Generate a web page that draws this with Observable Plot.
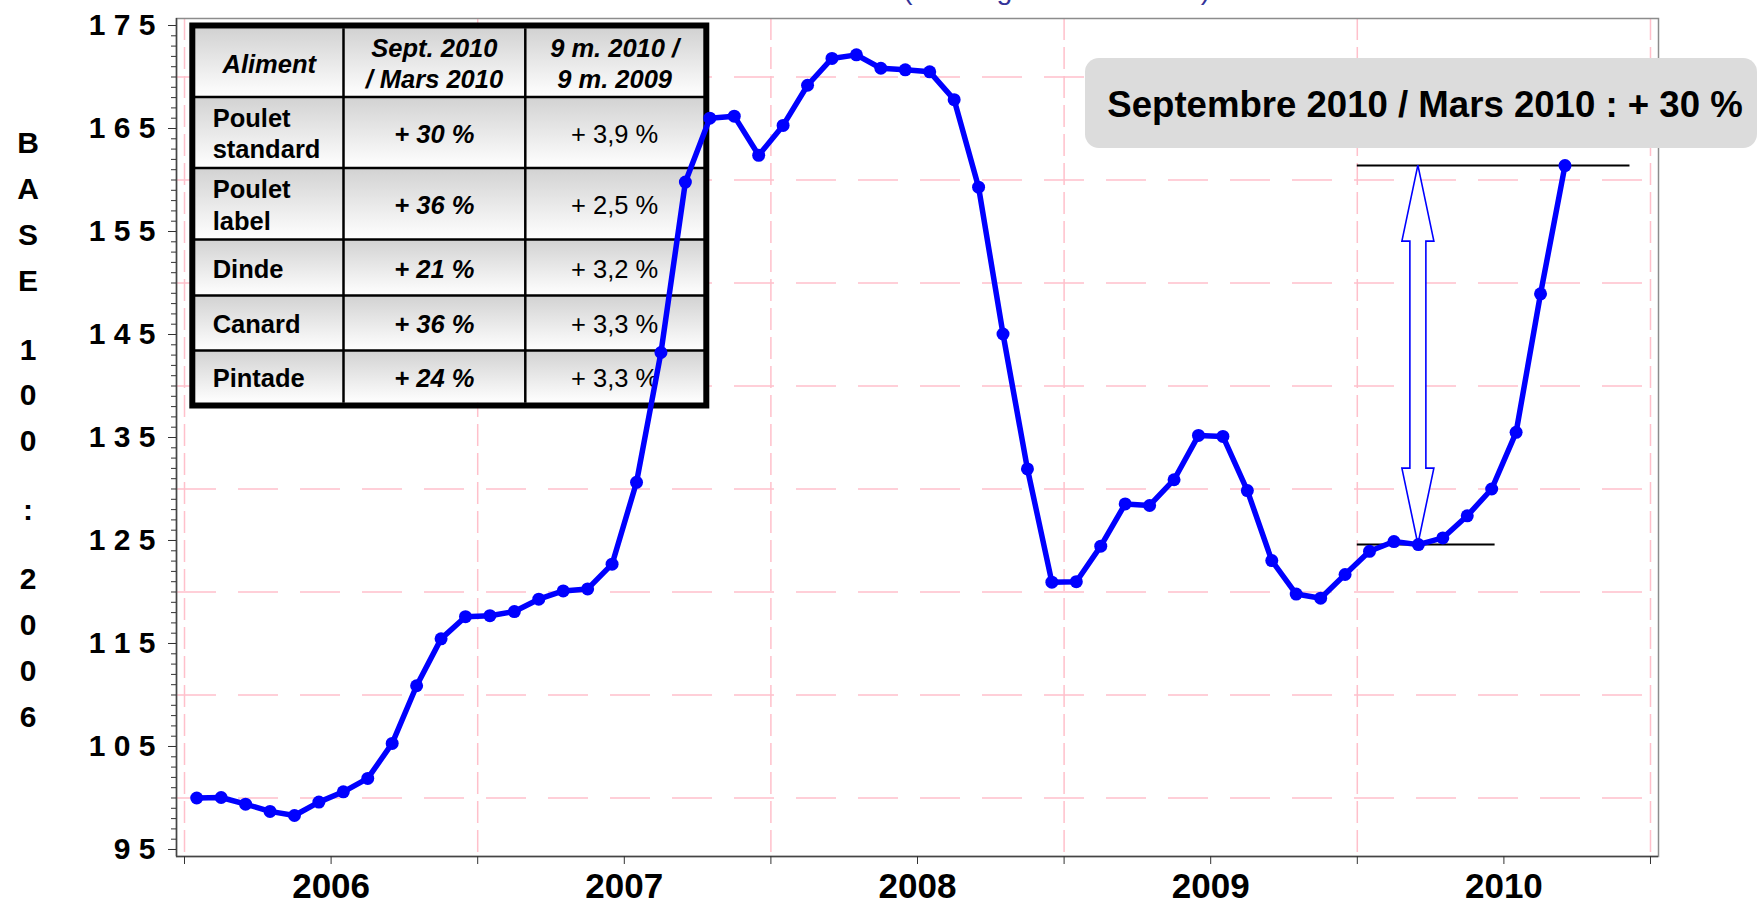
<!DOCTYPE html>
<html><head><meta charset="utf-8">
<script src="https://cdn.jsdelivr.net/npm/d3@7"></script>
<script src="https://cdn.jsdelivr.net/npm/@observablehq/plot@0.6"></script>
<style>
html,body{margin:0;padding:0;background:#fff;}
#chart{position:relative;width:1760px;height:906px;overflow:hidden;}
</style></head><body><div id="chart"></div>
<script>
const FONT = '"Liberation Sans", Arial, Helvetica, sans-serif';

// ---- data ----
const months = [
  "2006-01","2006-02","2006-03","2006-04","2006-05","2006-06","2006-07","2006-08","2006-09","2006-10","2006-11","2006-12",
  "2007-01","2007-02","2007-03","2007-04","2007-05","2007-06","2007-07","2007-08","2007-09","2007-10","2007-11","2007-12",
  "2008-01","2008-02","2008-03","2008-04","2008-05","2008-06","2008-07","2008-08","2008-09","2008-10","2008-11","2008-12",
  "2009-01","2009-02","2009-03","2009-04","2009-05","2009-06","2009-07","2009-08","2009-09","2009-10","2009-11","2009-12",
  "2010-01","2010-02","2010-03","2010-04","2010-05","2010-06","2010-07","2010-08","2010-09"
];
const indexValues = [
  100.0, 100.05, 99.4, 98.7, 98.3, 99.6, 100.6, 101.9, 105.3, 110.9, 115.45, 117.6,
  117.7, 118.1, 119.3, 120.1, 120.3, 122.7, 130.65, 143.25, 159.8, 166.0, 166.2, 162.4,
  165.3, 169.2, 171.8, 172.15, 170.85, 170.7, 170.5, 167.8, 159.3, 145.05, 131.95, 120.95,
  121.0, 124.45, 128.55, 128.4, 130.9, 135.2, 135.1, 129.85, 123.05, 119.8, 119.4, 121.7,
  123.95, 124.9, 124.6, 125.25, 127.4, 130.0, 135.5, 148.95, 161.4
];
const yTickValues = [95, 105, 115, 125, 135, 145, 155, 165, 175];
const yGridValues = [100, 110, 120, 130, 140, 150, 160, 170];
const yearBoundaries = [2006, 2007, 2008, 2009, 2010, 2011];
const yearLabelTicks = [2006.5, 2007.5, 2008.5, 2009.5, 2010.5];
const yTitle = "BASE 100 : 2006";
const titleText = "(cumul glissant 12 mois)";

const tableHeaders = ["Aliment", "Sept. 2010\n/ Mars 2010", "9 m. 2010 /\n9 m. 2009"];
const aliments = ["Poulet\nstandard", "Poulet\nlabel", "Dinde", "Canard", "Pintade"];
const septMars = ["+ 30 %", "+ 36 %", "+ 21 %", "+ 36 %", "+ 24 %"];
const neufMois = ["+ 3,9 %", "+ 2,5 %", "+ 3,2 %", "+ 3,3 %", "+ 3,3 %"];

const annotationText = "Septembre 2010 / Mars 2010 : + 30 %";
const annotMonths = ["2010-03", "2010-09"];     // Mars 2010 (bas), Septembre 2010 (haut)
const annotLineStart = 2010;
const annotLineEnds = [2010.47, 2010.93];

// ---- derived ----
const toT = m => { const [yy, mm] = m.split("-").map(Number); return yy + (mm - 0.5) / 12; };
const data = months.map((m, i) => ({t: toT(m), v: indexValues[i]}));
const annot = annotMonths.map((m, i) => ({t: toT(m), v: indexValues[months.indexOf(m)], x1: annotLineStart, x2: annotLineEnds[i]}));
const minorTicks = d3.range(95, 176, 1);
const xDomain = [2005.9727, 2011.0273];
const yDomain = [94.32, 175.68];

function tableMark() {
  const g = d3.create("svg:g").attr("font-family", FONT).attr("fill", "#000");
  const grad = g.append("defs").append("linearGradient").attr("id", "cellGrad")
    .attr("x1", 0).attr("y1", 0).attr("x2", 0).attr("y2", 1);
  grad.append("stop").attr("offset", "0%").attr("stop-color", "#d2d2d2");
  grad.append("stop").attr("offset", "100%").attr("stop-color", "#ffffff");
  const colX = [195, 343.5, 525.3, 704];
  const rowY = [28.3, 97, 168, 239.5, 295.5, 350.5, 402.7];
  for (let r = 0; r < 6; r++) for (let c = 0; c < 3; c++) {
    g.append("rect").attr("x", colX[c]).attr("y", rowY[r])
      .attr("width", colX[c + 1] - colX[c]).attr("height", rowY[r + 1] - rowY[r])
      .attr("fill", "url(#cellGrad)");
  }
  for (let c = 1; c < 3; c++) g.append("line").attr("x1", colX[c]).attr("x2", colX[c])
    .attr("y1", rowY[0]).attr("y2", rowY[6]).attr("stroke", "#000").attr("stroke-width", 2.5);
  for (let r = 1; r < 6; r++) g.append("line").attr("x1", colX[0]).attr("x2", colX[3])
    .attr("y1", rowY[r]).attr("y2", rowY[r]).attr("stroke", "#000").attr("stroke-width", 2.5);
  g.append("rect").attr("x", 192.3).attr("y", 25.5).attr("width", 514).attr("height", 380)
    .attr("fill", "none").attr("stroke", "#000").attr("stroke-width", 6);
  const L = 31.5, C = 18;
  const cell = (txt, x, cy, anchor, weight, style) => {
    const lines = txt.split("\n");
    const b1 = cy - (lines.length - 1) * L / 2 + C / 2 + 1;
    const t = g.append("text").attr("text-anchor", anchor).attr("font-size", 25.5)
      .attr("font-weight", weight).attr("font-style", style);
    lines.forEach((ln, i) => t.append("tspan").attr("x", x).attr("y", b1 + i * L).text(ln));
  };
  const cx = c => (colX[c] + colX[c + 1]) / 2;
  const cy = r => (rowY[r] + rowY[r + 1]) / 2;
  tableHeaders.forEach((h, c) => cell(h, cx(c), cy(0), "middle", "bold", "italic"));
  aliments.forEach((a, i) => {
    cell(a, 212.7, cy(i + 1), "start", "bold", "normal");
    cell(septMars[i], cx(1), cy(i + 1), "middle", "bold", "italic");
    cell(neufMois[i], cx(2), cy(i + 1), "middle", "normal", "normal");
  });
  return g.node();
}

function arrowMark(index, scales) {
  const lo = annot[0], hi = annot[1];
  const xm = scales.x(lo.t), yTop = scales.y(hi.v), yBot = scales.y(lo.v);
  const hl = 76, hh = 16, sh = 8;
  const p = [[xm, yTop], [xm + hh, yTop + hl], [xm + sh, yTop + hl], [xm + sh, yBot - hl], [xm + hh, yBot - hl],
    [xm, yBot], [xm - hh, yBot - hl], [xm - sh, yBot - hl], [xm - sh, yTop + hl], [xm - hh, yTop + hl]];
  const g = d3.create("svg:g");
  g.append("path").attr("d", "M" + p.map(q => q.join(",")).join("L") + "Z")
    .attr("fill", "#fff").attr("stroke", "#0000ff").attr("stroke-width", 1.6).attr("stroke-linejoin", "miter");
  return g.node();
}

function decorMark() {
  const g = d3.create("svg:g").attr("font-family", FONT);
  g.append("rect").attr("x", 1085).attr("y", 58).attr("width", 672).attr("height", 90)
    .attr("rx", 14).attr("fill", "#dcdcdc");
  g.append("text").attr("x", 1425).attr("y", 117).attr("text-anchor", "middle")
    .attr("font-size", 36.6).attr("font-weight", "bold").attr("fill", "#000").text(annotationText);
  g.append("text").attr("x", 903).attr("y", -1).attr("text-anchor", "start")
    .attr("font-size", 28.5).attr("fill", "#333399").text(titleText);
  let k = 0;
  const yt = g.append("text").attr("text-anchor", "middle").attr("font-size", 30)
    .attr("font-weight", "bold").attr("fill", "#000");
  for (const ch of yTitle) {
    if (ch === " ") { k += 0.5; continue; }
    yt.append("tspan").attr("x", 28).attr("y", 153 + 45.9 * k).text(ch);
    k += 1;
  }
  return g.node();
}

const chart = Plot.plot({
  width: 1760, height: 906,
  marginLeft: 176, marginRight: 102, marginTop: 18, marginBottom: 50,
  x: {type: "linear", domain: xDomain, label: null},
  y: {type: "linear", domain: yDomain, label: null},
  style: {fontFamily: FONT, color: "#000", background: "#fff"},
  marks: [
    Plot.ruleY(yGridValues, {stroke: "#ffc0cb", strokeWidth: 1.5, strokeDasharray: "40,22"}),
    Plot.ruleX(yearBoundaries, {stroke: "#ffc0cb", strokeWidth: 1.5, strokeDasharray: "22,7"}),
    tableMark,
    Plot.ruleY(annot, {y: "v", x1: "x1", x2: "x2", stroke: "#000", strokeWidth: 2}),
    arrowMark,
    Plot.line(data, {x: "t", y: "v", stroke: "#0000ff", strokeWidth: 5.5, strokeLinejoin: "round"}),
    Plot.dot(data, {x: "t", y: "v", r: 6.5, fill: "#0000ff", stroke: null}),
    Plot.frame({stroke: "#8c8c8c", strokeWidth: 1.5}),
    Plot.ruleX([xDomain[0]], {stroke: "#444", strokeWidth: 1.5}),
    Plot.ruleY([yDomain[0]], {stroke: "#444", strokeWidth: 1.5}),
    Plot.axisY({ticks: minorTicks, tickSize: 5, tickFormat: () => "", label: null, stroke: "#333"}),
    Plot.axisY({ticks: yTickValues, tickSize: 8, tickPadding: 13, label: null, stroke: "#333",
      tickFormat: d => String(d).split("").join(" "), fontSize: 30, fontWeight: "bold"}),
    Plot.axisX({ticks: yearBoundaries, tickSize: 8, tickFormat: () => "", label: null, stroke: "#333"}),
    Plot.axisX({ticks: yearLabelTicks, tickSize: 8, tickPadding: 9, label: null, stroke: "#333",
      tickFormat: d => String(Math.floor(d)), fontSize: 35, fontWeight: "bold"}),
    decorMark
  ]
});
document.getElementById("chart").appendChild(chart);
</script>
</body></html>
